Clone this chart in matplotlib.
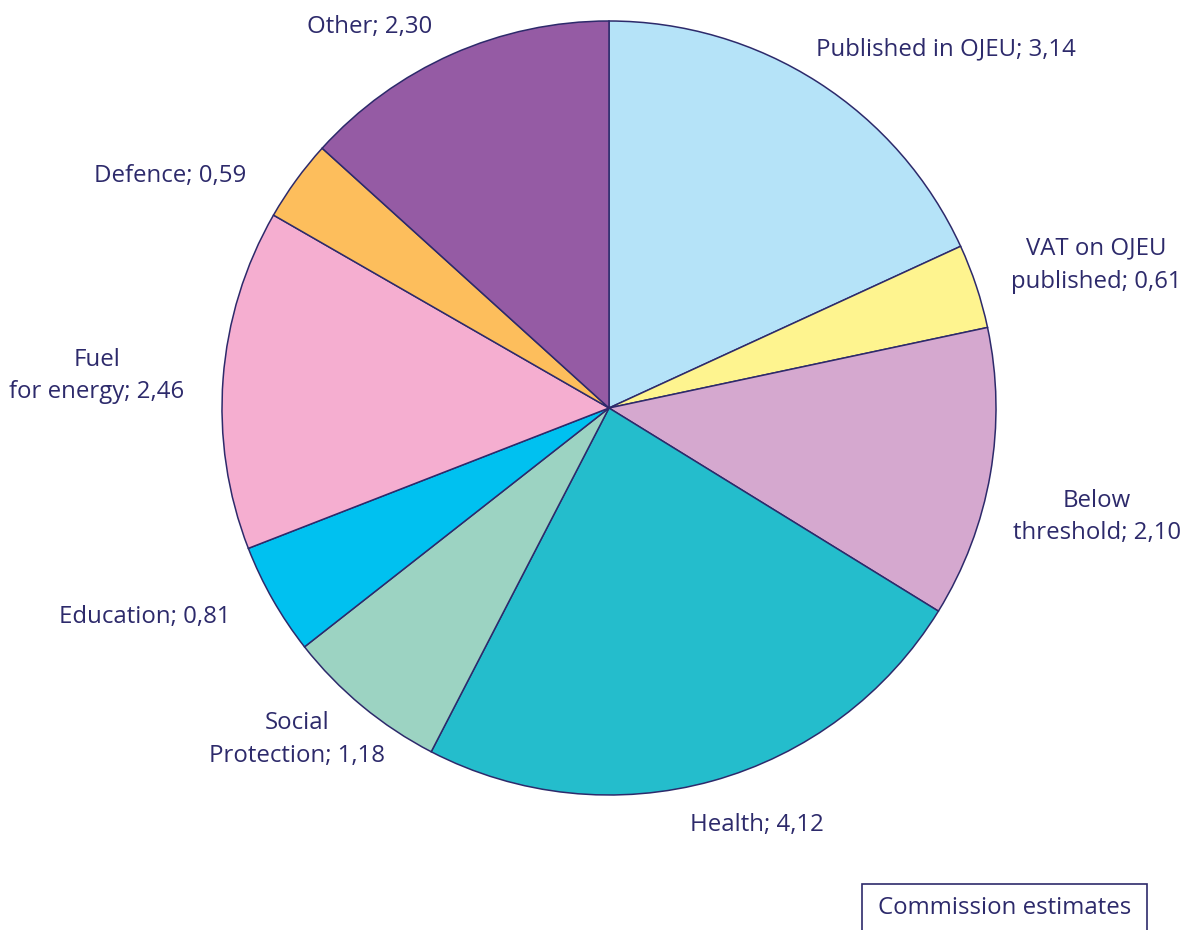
import matplotlib
matplotlib.use("Agg")
import matplotlib.pyplot as plt
from matplotlib.patches import Rectangle

labels = ["Published in OJEU; 3,14", "VAT on OJEU\npublished; 0,61", "Below\nthreshold; 2,10",
          "Health; 4,12", "Social\nProtection; 1,18", "Education; 0,81",
          "Fuel\nfor energy; 2,46", "Defence; 0,59", "Other; 2,30"]
values = [3.14, 0.61, 2.10, 4.12, 1.18, 0.81, 2.46, 0.59, 2.30]
colors = ["#b5e3f8", "#fef48f", "#d5a8cf", "#24bdcc", "#9cd3c2", "#00c1f0", "#f5aed0", "#fdbe5c", "#955ba4"]

# label centre positions in pixels (layout)
label_px = [(946, 49), (1096, 265), (1097, 517), (757, 825), (297, 739),
            (145, 617), (97, 376), (170, 176), (370, 27)]

W, H = 1182, 930
navy = "#2d2a6b"
plt.rcParams['font.family'] = ['Open Sans', 'DejaVu Sans']
fig = plt.figure(figsize=(W / 100, H / 100), dpi=100)
cx, cy, r = 609, 408, 387
ax = fig.add_axes([(cx - r) / W, (H - cy - r) / H, 2 * r / W, 2 * r / H])
ax.pie(values, colors=colors, startangle=90, counterclock=False, radius=1,
       wedgeprops=dict(edgecolor=navy, linewidth=1.1))
ax.set_xlim(-1, 1)
ax.set_ylim(-1, 1)
ax.set_aspect('equal')
ax.axis('off')

for lab, (px, py) in zip(labels, label_px):
    fig.text(px / W, 1 - py / H, lab, ha='center', va='center', color=navy,
             fontsize=17.3, linespacing=1.5)

fig.patches.append(Rectangle((862 / W, -0.02), (1147 - 862) / W, (930 - 884) / H + 0.02,
                             transform=fig.transFigure, fill=False, edgecolor=navy,
                             linewidth=1.2, clip_on=False))
fig.text((862 + 1147) / 2 / W, 1 - 908 / H, "Commission estimates", ha='center', va='center',
         color=navy, fontsize=17.3)
fig.savefig("out.png", dpi=100)
